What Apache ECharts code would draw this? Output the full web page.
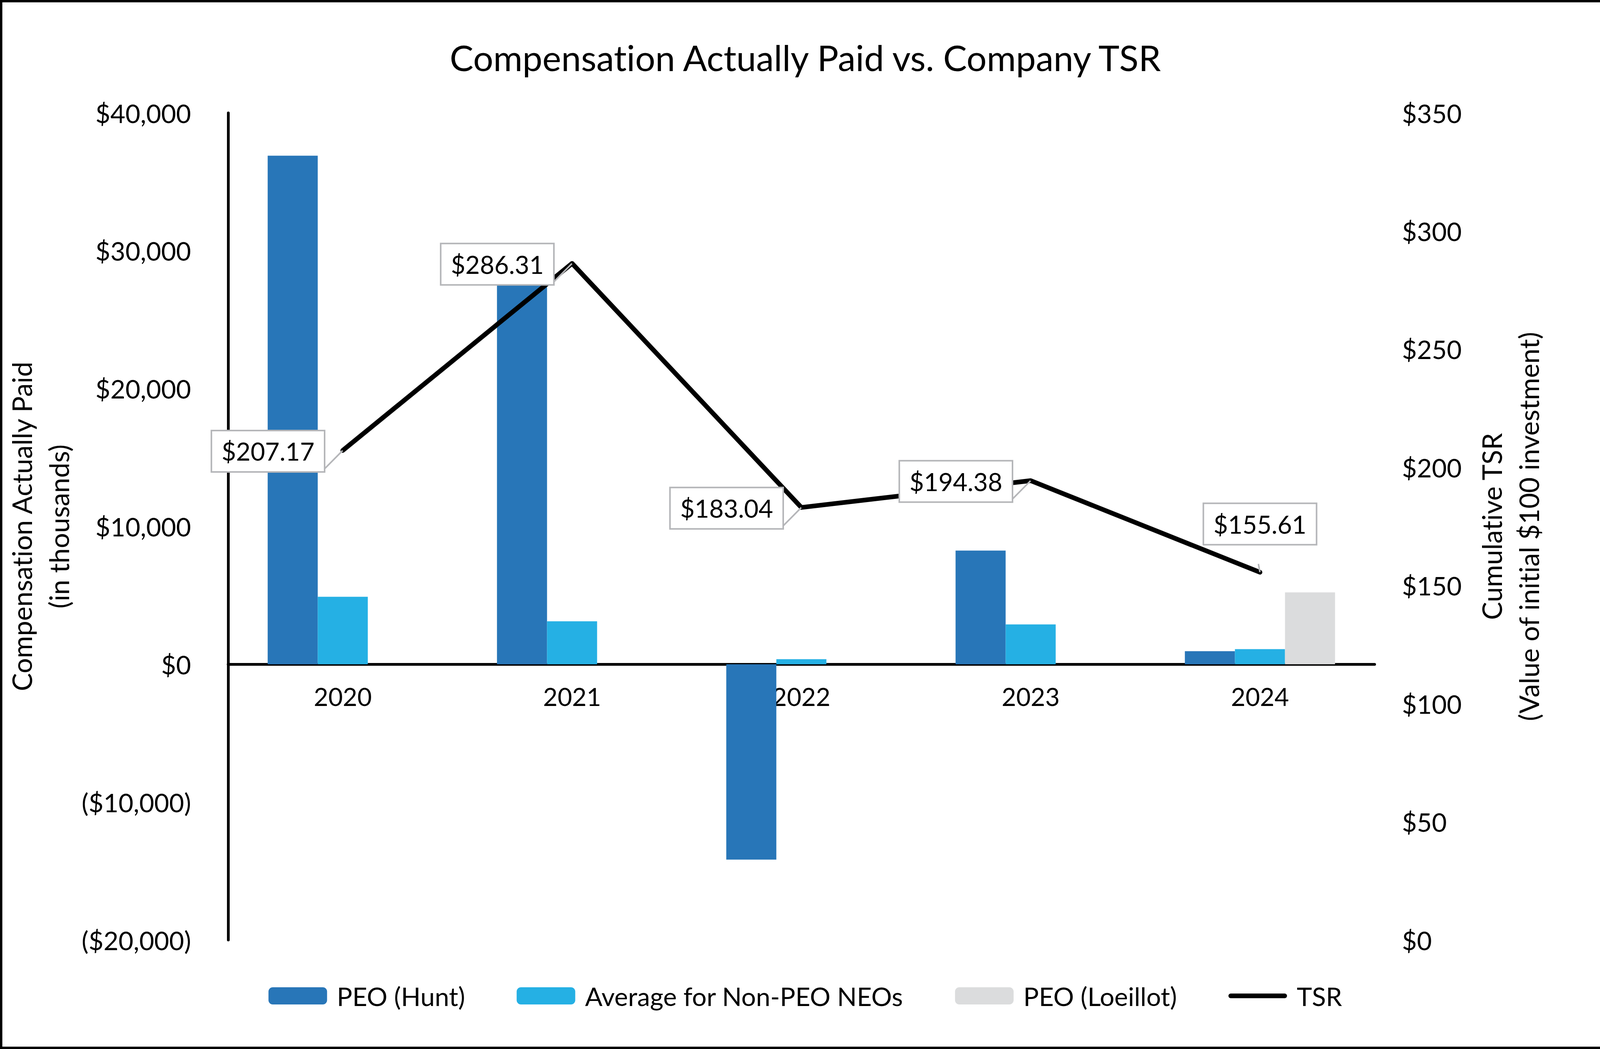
<!DOCTYPE html>
<html><head><meta charset="utf-8">
<script src="https://cdn.jsdelivr.net/npm/echarts@6/dist/echarts.min.js"></script>
<style>html,body{margin:0;padding:0;background:#fff;overflow:hidden}#c{width:4123px;height:2685px}#c text{font-variant-ligatures:none}</style>
</head><body><div id="c"></div>
<script>
// ---- data ----
const years = ['2020', '2021', '2022', '2023', '2024'];
const peoHunt = [36900, 28000, -14170, 8250, 950];
const nonPeoAvg = [4900, 3120, 370, 2890, 1100];
const peoLoeillot = [null, null, null, null, 5220];
const tsr = [207.17, 286.31, 183.04, 194.38, 155.61];
const seriesNames = ['PEO (Hunt)', 'Average for Non-PEO NEOs', 'PEO (Loeillot)', 'TSR'];
const leftRange = [-20000, 40000, 10000];
const rightRange = [0, 350, 50];

const FONT = 'Lato';
const BORDER = '#B5B6B9';
const W = 4123, H = 2685;
const G = { left: 584, right: 604, top: 289, bottom: 279 };
const plotH = H - G.top - G.bottom;
// place the category axis on the zero line of the left axis
const zeroFromBottom = plotH * (0 - leftRange[0]) / (leftRange[1] - leftRange[0]);

function fmtLeft(v) {
  const s = '$' + Math.abs(v).toLocaleString('en-US');
  return v < 0 ? '(' + s + ')' : s;
}

const chart = echarts.init(document.getElementById('c'), null, { renderer: 'svg' });
chart.setOption({
  backgroundColor: '#fff',
  animation: false,
  textStyle: { fontFamily: FONT, color: '#000' },
  title: {
    text: 'Compensation Actually Paid vs. Company TSR',
    left: 'center', top: 96,
    textStyle: { fontFamily: FONT, fontSize: 91, fontWeight: 'normal', color: '#000' }
  },
  graphic: [{
    type: 'rect', silent: true, z: 100,
    shape: { x: 3, y: 3, width: W - 6, height: H - 6 },
    style: { fill: 'none', stroke: '#000', lineWidth: 6 }
  }],
  grid: G,
  legend: {
    data: [
      { name: seriesNames[0] },
      { name: seriesNames[1] },
      { name: seriesNames[2] },
      { name: seriesNames[3], icon: 'path://M6 0H144A6 6 0 0 1 144 12H6A6 6 0 0 1 6 0Z' }
    ],
    bottom: 98, left: 'center',
    itemWidth: 150, itemHeight: 44, itemGap: 132,
    textStyle: { fontFamily: FONT, fontSize: 66, color: '#000', padding: [0, 0, 0, 20] }
  },
  xAxis: {
    type: 'category', data: years,
    offset: -zeroFromBottom,
    axisLine: { onZero: false, lineStyle: { color: '#000', width: 7 } },
    axisTick: { show: false },
    axisLabel: { fontFamily: FONT, fontSize: 64, color: '#000', margin: 50 }
  },
  yAxis: [{
    type: 'value', min: leftRange[0], max: leftRange[1], interval: leftRange[2],
    axisLine: { show: true, lineStyle: { color: '#000', width: 7 } },
    axisTick: { show: false }, splitLine: { show: false },
    axisLabel: { fontFamily: FONT, fontSize: 66, color: '#000', margin: 95, formatter: fmtLeft },
    name: 'Compensation Actually Paid\n(in thousands)',
    nameLocation: 'middle', nameRotate: 90, nameGap: 368,
    nameTextStyle: { fontFamily: FONT, fontSize: 69, lineHeight: 95, color: '#000' }
  }, {
    type: 'value', min: rightRange[0], max: rightRange[1], interval: rightRange[2], position: 'right',
    axisLine: { show: false }, axisTick: { show: false }, splitLine: { show: false },
    axisLabel: { fontFamily: FONT, fontSize: 66, color: '#000', margin: 70, formatter: v => '$' + v },
    name: 'Cumulative TSR\n(Value of initial $100 investment)',
    nameLocation: 'middle', nameRotate: 90, nameGap: 252,
    nameTextStyle: { fontFamily: FONT, fontSize: 69, lineHeight: 95, color: '#000' }
  }],
  series: [{
    name: seriesNames[0], type: 'bar', yAxisIndex: 0, data: peoHunt,
    itemStyle: { color: '#2876B8' }, barGap: '0%', barCategoryGap: '34.5%'
  }, {
    name: seriesNames[1], type: 'bar', yAxisIndex: 0, data: nonPeoAvg,
    itemStyle: { color: '#25B0E4' }, barGap: '0%', barCategoryGap: '34.5%'
  }, {
    name: seriesNames[2], type: 'bar', yAxisIndex: 0, data: peoLoeillot,
    itemStyle: { color: '#DBDCDD' }, barGap: '0%', barCategoryGap: '34.5%'
  }, {
    name: seriesNames[3], type: 'line', yAxisIndex: 1, z: 10,
    data: tsr.map((v, i) => i === tsr.length - 1
      ? { value: v, label: { position: 'top', distance: 72, offset: [0, 0] } }
      : v),
    symbol: 'circle', symbolSize: 1, showSymbol: true,
    itemStyle: { color: '#000' },
    lineStyle: { color: '#000', width: 12, cap: 'round', join: 'round' },
    label: {
      show: true, position: 'left', distance: 48, offset: [0, 2],
      formatter: p => '$' + p.value.toFixed(2),
      fontFamily: FONT, fontSize: 64, lineHeight: 64, color: '#000',
      backgroundColor: '#fff', borderColor: BORDER, borderWidth: 4,
      padding: [19, 24, 19, 24]
    },
    labelLine: { show: true, lineStyle: { color: BORDER, width: 4 } }
  }]
});
</script>
</body></html>
